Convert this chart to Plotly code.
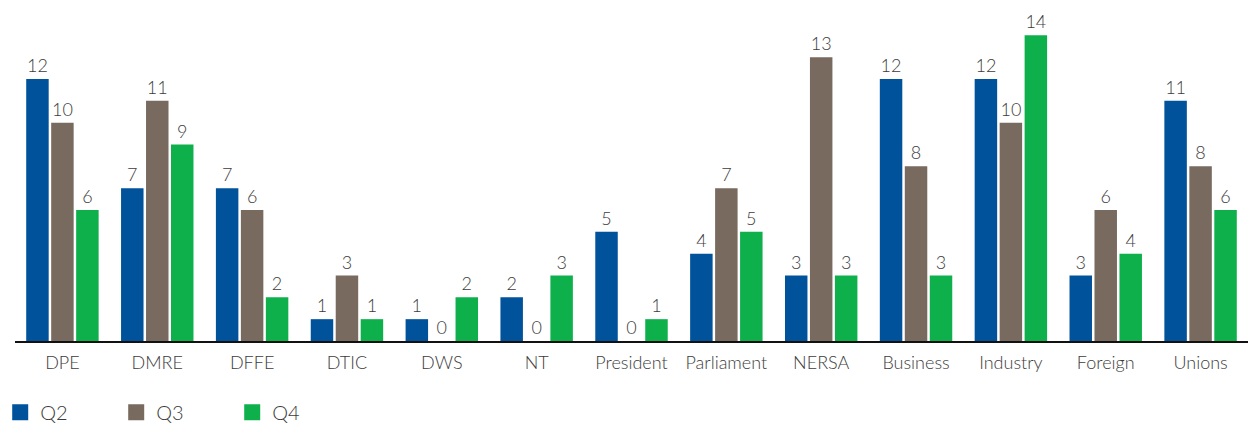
import plotly.graph_objects as go

categories = ["DPE", "DMRE", "DFFE", "DTIC", "DWS", "NT", "President", "Parliament",
              "NERSA", "Business", "Industry", "Foreign", "Unions"]
q2 = [12, 7, 7, 1, 1, 2, 5, 4, 3, 12, 12, 3, 11]
q3 = [10, 11, 6, 3, 0, 0, 0, 7, 13, 8, 10, 6, 8]
q4 = [6, 9, 2, 1, 2, 3, 1, 5, 3, 3, 14, 4, 6]

series = [("Q2", q2, "#00529B"), ("Q3", q3, "#786A5E"), ("Q4", q4, "#0DB04B")]

FONT = "Lato, 'Open Sans', sans-serif"
TXT = "#3c3c3c"
fig = go.Figure()
for name, vals, col in series:
    fig.add_trace(go.Bar(
        x=categories, y=vals, name=name, marker_color=col, marker_line_width=0,
        text=[str(v) for v in vals], textposition="outside",
        textfont=dict(size=18, color=TXT, family=FONT, weight=300),
        cliponaxis=False, showlegend=False, legendgroup=name,
    ))
for name, vals, col in series:
    fig.add_trace(go.Scatter(
        x=[None], y=[None], mode="markers", name=name, legendgroup=name,
        marker=dict(symbol="square", size=16, color=col), hoverinfo="skip",
    ))

fig.update_layout(
    width=1249, height=427,
    margin=dict(l=15, r=1, t=10, b=86, autoexpand=False),
    paper_bgcolor="white", plot_bgcolor="white",
    barmode="group", bargap=0.21, bargroupgap=0.1,
    font=dict(family=FONT, color=TXT, size=17, weight=300),
    showlegend=True,
    legend=dict(orientation="h", x=-0.012, xanchor="left", y=-0.215, yanchor="middle",
                font=dict(size=20, color=TXT, weight=300), entrywidth=71, entrywidthmode="pixels",
                itemclick=False, itemdoubleclick=False, itemsizing="trace"),
    xaxis=dict(showline=True, linecolor="#111", linewidth=2, ticks="", showgrid=False,
               tickfont=dict(size=18, color=TXT, weight=300), ticklabelstandoff=4,
               fixedrange=True, automargin=False),
    yaxis=dict(range=[0, 15.16], visible=False, showgrid=False, zeroline=False, fixedrange=True),
)

fig.write_html("out.html")
